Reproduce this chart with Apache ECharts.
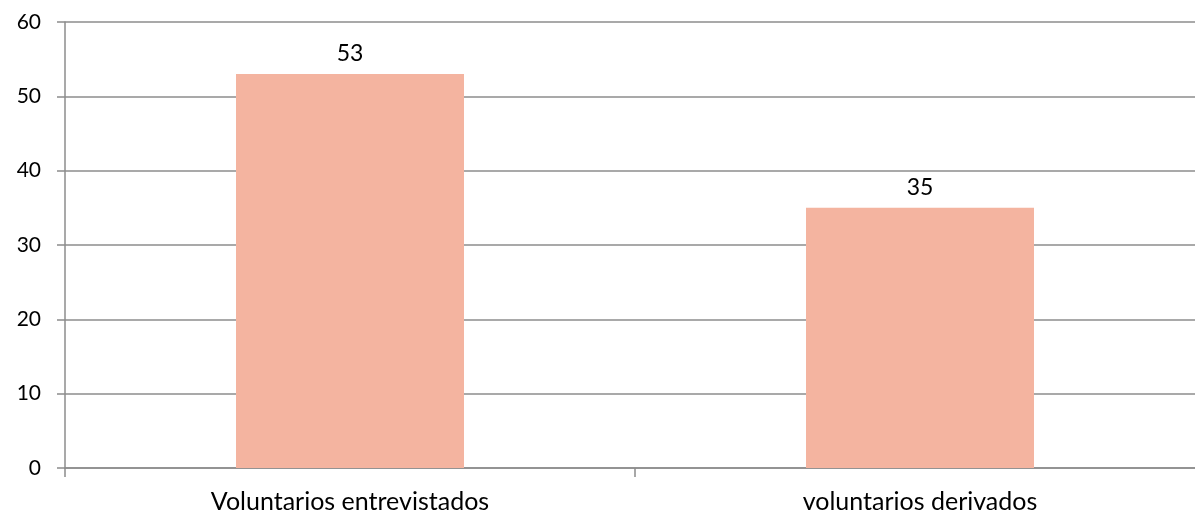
<!DOCTYPE html>
<html><head><meta charset="utf-8">
<script src="https://cdn.jsdelivr.net/npm/echarts@6/dist/echarts.min.js"></script>
<style>html,body{margin:0;padding:0;background:#fff;}#c{width:1195px;height:516px;}</style>
</head><body><div id="c"></div>
<script>
var categories = ["Voluntarios entrevistados", "voluntarios derivados"];
var values = [53, 35];
var yTicks = [0, 10, 20, 30, 40, 50, 60];

var chart = echarts.init(document.getElementById('c'), null, {renderer: 'canvas'});
chart.setOption({
  animation: false,
  grid: {left: 65, top: 22, bottom: 48, right: -10, outerBoundsMode: 'none', containLabel: false},
  xAxis: {
    type: 'category',
    data: categories,
    axisLine: {show: true, lineStyle: {color: '#8c8c8c', width: 1.5}},
    axisTick: {show: true, length: 9, lineStyle: {color: '#8c8c8c', width: 1.5}},
    axisLabel: {color: '#000', fontSize: 25, fontFamily: 'Lato', margin: 21}
  },
  yAxis: {
    type: 'value',
    min: yTicks[0], max: yTicks[yTicks.length - 1], interval: 10,
    axisLine: {show: true, lineStyle: {color: '#8c8c8c', width: 1.5}},
    axisTick: {show: true, length: 8, lineStyle: {color: '#8c8c8c', width: 1.5}},
    splitLine: {show: true, lineStyle: {color: '#8c8c8c', width: 1.5}},
    axisLabel: {color: '#000', fontSize: 21, fontFamily: 'Lato', margin: 24}
  },
  series: [{
    type: 'bar',
    data: values,
    barWidth: '40%',
    itemStyle: {color: '#F4B4A0'},
    label: {show: true, position: 'top', color: '#000', fontSize: 23, fontFamily: 'Lato', distance: 9}
  }]
});
</script></body></html>
